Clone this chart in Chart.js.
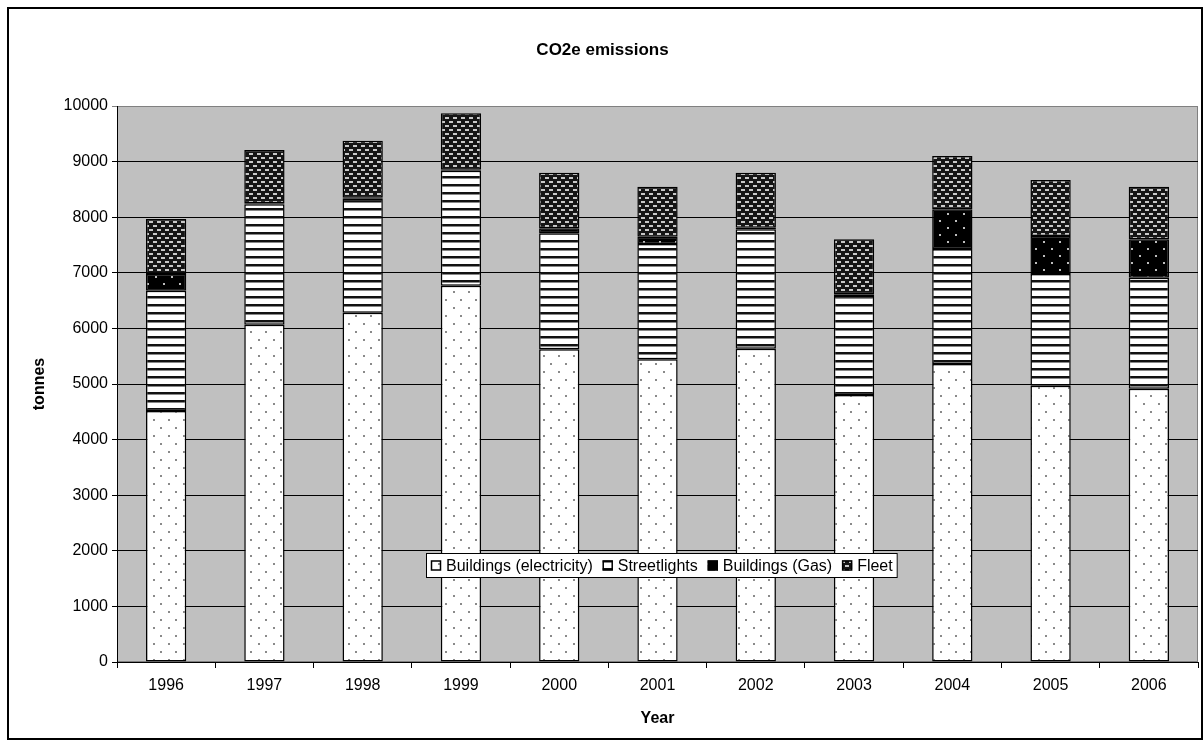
<!DOCTYPE html>
<html>
<head>
<meta charset="utf-8">
<script src="https://cdn.jsdelivr.net/npm/chart.js@4/dist/chart.umd.min.js"></script>
<style>
html,body{margin:0;padding:0;background:#fff;}
canvas{display:block;}
</style>
</head>
<body>
<canvas id="c" width="1204" height="746" style="width:1204px;height:746px"></canvas>
<script>
const years = ["1996","1997","1998","1999","2000","2001","2002","2003","2004","2005","2006"];
const buildingsElectricity = [4515, 6066, 6283, 6768, 5624, 5447, 5635, 4802, 5360, 4970, 4916];
const streetlights = [2163, 2166, 2050, 2069, 2086, 2071, 2147, 1781, 2068, 2008, 1997];
const buildingsGas = [300, 20, 15, 15, 90, 131, 29, 30, 714, 684, 690];
const fleet = [990, 957, 1028, 1016, 1001, 900, 990, 990, 959, 1007, 946];
const yTicks = [0,1000,2000,3000,4000,5000,6000,7000,8000,9000,10000];

const FONT = '"Liberation Sans", Arial, sans-serif';

function makePattern(w, h, draw) {
  const c = document.createElement('canvas');
  c.width = w; c.height = h;
  const g = c.getContext('2d');
  draw(g);
  return document.getElementById('c').getContext('2d').createPattern(c, 'repeat');
}
const patElec = makePattern(15, 16, g => {
  g.fillStyle = '#fff'; g.fillRect(0,0,15,16);
  g.fillStyle = '#8a8a8a';
  g.fillRect(3,3,2,2); g.fillRect(10,11,2,2);
});
const patStreet = makePattern(8, 8, g => {
  g.fillStyle = '#fff'; g.fillRect(0,0,8,8);
  g.fillStyle = '#111'; g.fillRect(0,0,8,2);
  g.fillStyle = '#888'; g.fillRect(0,2,8,1);
});
const patGas = makePattern(16, 14, g => {
  g.fillStyle = '#000'; g.fillRect(0,0,16,14);
  g.fillStyle = '#bdbdbd';
  g.fillRect(3,3,2,2); g.fillRect(11,10,2,2);
});
const patFleet = makePattern(8, 8, g => {
  g.fillStyle = '#151515'; g.fillRect(0,0,8,8);
  g.fillStyle = '#c8c8c8';
  g.fillRect(1,1,4,2); g.fillRect(5,5,3,2); g.fillRect(0,5,1,2);
});

const bgPlugin = {
  id: 'bg',
  beforeDraw(chart) {
    const {ctx, chartArea: a} = chart;
    ctx.save();
    ctx.fillStyle = '#fff';
    ctx.fillRect(0,0,chart.width,chart.height);
    ctx.fillStyle = '#c0c0c0';
    ctx.fillRect(a.left, a.top, a.right - a.left, a.bottom - a.top);
    ctx.strokeStyle = '#808080';
    ctx.lineWidth = 1;
    ctx.strokeRect(a.left + 0.5, a.top + 0.5, a.right - a.left - 1, a.bottom - a.top - 1);
    ctx.restore();
  },
  afterDraw(chart) {
    const {ctx} = chart;
    ctx.save();
    ctx.strokeStyle = '#000';
    ctx.lineWidth = 2;
    ctx.strokeRect(8, 8, 1194, 731);
    ctx.font = '16px ' + FONT;
    const items = chart.data.datasets.map(d => ({label: d.label, fill: d.backgroundColor}));
    const sw = 10, gapAfterSw = 5, gapBetween = 10, padX = 5;
    let total = padX * 2;
    items.forEach((it, i) => {
      it.w = ctx.measureText(it.label).width;
      total += sw + gapAfterSw + it.w + (i < items.length - 1 ? gapBetween : 0);
    });
    const boxTop = 553, boxH = 25;
    const boxLeft = Math.round(662 - total / 2);
    ctx.fillStyle = '#fff';
    ctx.fillRect(boxLeft, boxTop, total, boxH);
    ctx.strokeStyle = '#000';
    ctx.lineWidth = 1;
    ctx.strokeRect(boxLeft + 0.5, boxTop + 0.5, total - 1, boxH - 1);
    let x = boxLeft + padX;
    const cy = boxTop + boxH / 2;
    items.forEach(it => {
      ctx.fillStyle = it.fill;
      ctx.fillRect(x, cy - 5, sw, sw);
      ctx.strokeStyle = '#000';
      ctx.lineWidth = 1.5;
      ctx.strokeRect(x + 0.5, cy - 5 + 0.5, sw - 1, sw - 1);
      ctx.fillStyle = '#000';
      ctx.textBaseline = 'middle';
      ctx.textAlign = 'left';
      ctx.fillText(it.label, x + sw + gapAfterSw, cy + 1);
      x += sw + gapAfterSw + it.w + gapBetween;
    });
    ctx.restore();
  }
};

const common = {borderColor: '#000', borderWidth: 1.5, borderSkipped: false, categoryPercentage: 0.82, barPercentage: 0.5};

new Chart(document.getElementById('c'), {
  type: 'bar',
  data: {
    labels: years,
    datasets: [
      Object.assign({label: 'Buildings (electricity)', data: buildingsElectricity, backgroundColor: patElec}, common),
      Object.assign({label: 'Streetlights', data: streetlights, backgroundColor: patStreet}, common),
      Object.assign({label: 'Buildings (Gas)', data: buildingsGas, backgroundColor: patGas}, common),
      Object.assign({label: 'Fleet', data: fleet, backgroundColor: patFleet}, common)
    ]
  },
  options: {
    responsive: false,
    devicePixelRatio: 1,
    animation: false,
    layout: {padding: {left: 7, right: 6, top: 0, bottom: 8}},
    plugins: {
      legend: {display: false},
      tooltip: {enabled: false},
      title: {
        display: true,
        text: 'CO2e emissions',
        color: '#000',
        font: {family: FONT, size: 17, weight: 'bold'},
        padding: {top: 40, bottom: 45.6}
      }
    },
    scales: {
      x: {
        stacked: true,
        afterFit(s) { s.height = 76; },
        grid: {offset: true, drawOnChartArea: false, color: '#000', tickLength: 6, lineWidth: 1},
        border: {color: '#000', width: 1},
        ticks: {color: '#000', font: {family: FONT, size: 16}, padding: 8, maxRotation: 0},
        title: {display: true, text: 'Year', color: '#000', font: {family: FONT, size: 16, weight: 'bold'}, padding: {top: 0, bottom: 10}}
      },
      y: {
        stacked: true,
        min: 0,
        max: 10000,
        afterFit(s) { s.width = 110; },
        afterBuildTicks(s) { s.ticks = yTicks.map(v => ({value: v})); },
        grid: {color: ctx => (ctx.tick && ctx.tick.value === 10000 ? '#808080' : '#000'), tickLength: 5, lineWidth: 1},
        border: {color: '#000', width: 1},
        ticks: {color: '#000', font: {family: FONT, size: 16}, padding: 4, callback: v => String(v)},
        title: {display: true, text: 'tonnes', color: '#000', font: {family: FONT, size: 16, weight: 'bold'}, padding: {top: 23, bottom: 0}}
      }
    }
  },
  plugins: [bgPlugin]
});
</script>
</body>
</html>
